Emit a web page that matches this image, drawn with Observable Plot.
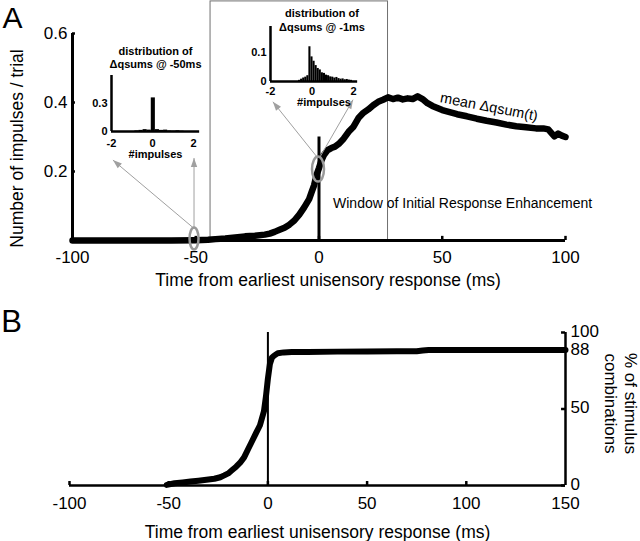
<!DOCTYPE html>
<html><head><meta charset="utf-8">
<script src="https://cdn.jsdelivr.net/npm/d3@7"></script>
<script src="https://cdn.jsdelivr.net/npm/@observablehq/plot@0.6"></script>
<style>
body{margin:0;background:#fff}
#fig{position:relative;width:640px;height:541px;overflow:hidden;background:#fff}
#fig > svg{position:absolute}
</style></head><body><div id="fig"></div>
<script>
// ---------- Panel A data ----------
const timeA = [-100,-80,-60,-50,-45,-42,-38,-34,-30,-26,-22,-20,-18,-16,-14,-12,-10,-8,-6,-4,-3,-2,-1,0,1,2,3.5,5,6.5,8,10,12,14,16,18,20,22,24,26,28,30,32,34,36,38,40,42,44,46,48,50,53,56,60,64,68,72,76,80,84,88,91,93,94.5,95.5,97,98.5,100];
const meanDqsum = [0,0,0,0.001,0.002,0.004,0.006,0.009,0.012,0.014,0.017,0.02,0.025,0.031,0.037,0.046,0.058,0.075,0.096,0.12,0.14,0.16,0.19,0.21,0.232,0.248,0.262,0.268,0.272,0.28,0.295,0.315,0.33,0.355,0.37,0.38,0.392,0.402,0.408,0.415,0.41,0.414,0.409,0.412,0.41,0.418,0.41,0.398,0.39,0.384,0.378,0.372,0.366,0.36,0.353,0.347,0.342,0.336,0.331,0.328,0.325,0.325,0.322,0.31,0.302,0.31,0.304,0.30];
const xTicksA = [-100,-50,0,50,100];
const yTicksA = [0.2,0.4,0.6];
const windowStart = -44, windowEnd = 28, windowTop = 0.693;
const onsetLineTop = 0.30;
const markerT = [-50.7, -0.4];
const markerV = [0.006, 0.207];
const arrowFromT = [-50.7, -50.7, -0.8, 0.4];
const arrowFromV = [0.035, 0.035, 0.242, 0.242];
const arrowToT = [-83.6, -50.7, -18.7, 13.8];
const arrowToV = [0.233, 0.239, 0.402, 0.408];
const windowLabel = "Window of Initial Response Enhancement";
const windowLabelT = 5.7, windowLabelV = 0.107;
const curveLabel = "mean Δqsum(t)";
const curveLabelT = 69, curveLabelV = 0.387;

// ---------- Inset 1 (-50 ms) ----------
const inset1Centers = [-0.76,-0.56,-0.36,-0.16,0.04,0.24,0.44,0.64,0.84,1.04,1.24,1.44];
const inset1Heights = [0.006,0.012,0.02,0.015,0.36,0.02,0.012,0.015,0.006,0.004,0.008,0.003];
const inset1BinWidth = 0.2;
const inset1XTicks = [-2,0,2];
const inset1YTicks = [0,0.3];

// ---------- Inset 2 (-1 ms) ----------
const inset2Centers = [-0.6,-0.5,-0.4,-0.3,-0.2,-0.1,0,0.1,0.2,0.3,0.4,0.5,0.6,0.7,0.8,0.9,1.0,1.1,1.2,1.3,1.4,1.5,1.6,1.7,1.8,1.9];
const inset2Heights = [0.004,0.008,0.012,0.015,0.02,0.12,0.085,0.07,0.055,0.045,0.04,0.03,0.028,0.022,0.02,0.016,0.015,0.012,0.014,0.01,0.008,0.009,0.006,0.007,0.005,0.004];
const inset2BinWidth = 0.1;
const inset2XTicks = [-2,0,2];
const inset2YTicks = [0,0.1];

// ---------- Panel B data ----------
const timeB = [-51,-47,-43,-39,-35,-31,-27,-24,-22,-20,-18,-16,-14,-12,-10,-8,-6,-4,-2,-1,0,1,2,3,5,8,12,20,35,50,65,75,78,81,100,125,150];
const pctB = [0.4,1.5,2.0,2.6,3.1,3.7,4.4,5.4,6.6,7.9,10.1,12.3,14.9,18.4,23.7,28.9,34.2,39.4,48.5,58,69.9,79.4,83.5,84.7,86.5,87,87.2,87.3,87.5,87.6,87.7,87.7,88.2,88.6,88.6,88.6,88.6];
const xTicksB = [-100,-50,0,50,100,150];
const yTicksB = [0,50,88,100];

// ---------- helpers ----------
const font = "'Liberation Sans', Arial, Helvetica, sans-serif";
const st = (size) => ({fontFamily: font, fontSize: size + "px", color: "black", background: "transparent", overflow: "visible"});
const gray = "#a0a0a0";
const mid = {textAnchor: "middle", lineAnchor: "middle"};
function ellipseSymbol(rx, ry) {
  return {draw(ctx) {
    const k = 0.5523;
    ctx.moveTo(rx, 0);
    ctx.bezierCurveTo(rx, k*ry, k*rx, ry, 0, ry);
    ctx.bezierCurveTo(-k*rx, ry, -rx, k*ry, -rx, 0);
    ctx.bezierCurveTo(-rx, -k*ry, -k*rx, -ry, 0, -ry);
    ctx.bezierCurveTo(k*rx, -ry, rx, -k*ry, rx, 0);
    ctx.closePath();
  }};
}
function headSymbol(angle) {
  const L = 9, W = 3.2, c = Math.cos(angle), s = Math.sin(angle);
  const rot = ([x, y]) => [x*c - y*s, x*s + y*c];
  return {draw(ctx) {
    const p = [[0,0],[-W,L],[W,L]].map(rot);
    ctx.moveTo(p[0][0], p[0][1]); ctx.lineTo(p[1][0], p[1][1]); ctx.lineTo(p[2][0], p[2][1]); ctx.closePath();
  }};
}
const fig = document.getElementById("fig");
function put(svg, left, top) { svg.style.left = left + "px"; svg.style.top = top + "px"; fig.appendChild(svg); }

// ---------- Panel A ----------
const WA = 640, HA = 300, mlA = 72, mrA = 75, mtA = 33, mbA = 60;
const kxA = (WA - mlA - mrA) / 200, kyA = (HA - mtA - mbA) / 0.6;
const dataA = timeA.map((t, i) => ({t, v: meanDqsum[i]}));
const arrowsA = arrowFromT.map((_, i) => ({x1: arrowFromT[i], y1: arrowFromV[i], x2: arrowToT[i], y2: arrowToV[i]}));
const markers = markerT.map((t, i) => ({t, v: markerV[i]}));
const ellipseR = [[4.5, 11], [6, 12.5]];
const heads = arrowsA.map(a => Plot.dot([a], {x: "x2", y: "y2", r: 5,
  symbol: headSymbol(Math.atan2((a.x2 - a.x1) * kxA, (a.y2 - a.y1) * kyA)), fill: gray, stroke: "none"}));
const ellipses = markers.map((m, i) => Plot.dot([m], {x: "t", y: "v", r: 10,
  symbol: ellipseSymbol(ellipseR[i][0], ellipseR[i][1]), stroke: "#999", strokeWidth: 2.5, fill: "none"}));

const A = Plot.plot({
  width: WA, height: HA, marginLeft: mlA, marginRight: mrA, marginTop: mtA, marginBottom: mbA,
  x: {domain: [-100, 100], axis: null},
  y: {domain: [0, 0.6], axis: null},
  style: st(17),
  marks: [
    Plot.rect([{x1: windowStart, x2: windowEnd, y1: 0, y2: windowTop}], {x1: "x1", x2: "x2", y1: "y1", y2: "y2", fill: "none", stroke: "#707070", strokeWidth: 1}),
    Plot.ruleY([0], {x1: -100, x2: 100, strokeWidth: 3}),
    Plot.ruleX([-100], {y1: 0, y2: 0.6, strokeWidth: 3}),
    Plot.ruleX(xTicksA.slice(1), {y1: 0, y2: 0.012, strokeWidth: 2.5}),
    Plot.ruleY(yTicksA, {x1: -100, x2: -98.8, strokeWidth: 2.5}),
    Plot.ruleX([0], {y1: 0, y2: onsetLineTop, strokeWidth: 3}),
    Plot.line(dataA, {x: "t", y: "v", strokeWidth: 6.5, strokeLinejoin: "round"}),
    Plot.link(arrowsA, {x1: "x1", y1: "y1", x2: "x2", y2: "y2", stroke: gray, strokeWidth: 1}),
    ...heads,
    ...ellipses,
    Plot.text(xTicksA, {x: d => d, y: 0, text: d => String(d), dy: 17, ...mid}),
    Plot.text(yTicksA, {x: -100, y: d => d, text: d => d.toFixed(1), textAnchor: "end", lineAnchor: "middle", dx: -5}),
    Plot.text(["Number of impulses / trial"], {frameAnchor: "left", rotate: -90, dx: -55, dy: 11.5, fontSize: 17.5, ...mid}),
    Plot.text(["Time from earliest unisensory response (ms)"], {frameAnchor: "bottom", dx: 9, dy: 40, fontSize: 17.5, ...mid}),
    Plot.text(["A"], {frameAnchor: "top-left", dx: -60, dy: -15.5, fontSize: 30, ...mid}),
    Plot.text([{t: windowLabelT, v: windowLabelV, label: windowLabel}], {x: "t", y: "v", text: "label", textAnchor: "start", lineAnchor: "middle", fontSize: 14}),
    Plot.text([{t: curveLabelT, v: curveLabelV, label: curveLabel}], {x: "t", y: "v", text: "label", rotate: 11, fontSize: 14.5, ...mid})
  ]
});
put(A, 0, 0);

// ---------- Inset 1 ----------
const bins1 = inset1Centers.map((c, i) => ({x1: c - inset1BinWidth/2, x2: c + inset1BinWidth/2, h: inset1Heights[i]}));
const I1 = Plot.plot({
  width: 140, height: 125, marginLeft: 31, marginRight: 27, marginTop: 35, marginBottom: 34,
  x: {domain: [-2, 2], axis: null}, y: {domain: [0, 0.6], axis: null},
  style: st(11),
  marks: [
    Plot.rect(bins1, {x1: "x1", x2: "x2", y1: 0, y2: "h", fill: "black"}),
    Plot.ruleY([0], {x1: -2, x2: 2.3, strokeWidth: 2.5}),
    Plot.ruleX([-2], {y1: 0, y2: 0.6, strokeWidth: 2.5}),
    Plot.text(inset1XTicks, {x: d => d, y: 0, text: d => String(d), dy: 12, fontWeight: "bold", ...mid}),
    Plot.text(inset1YTicks, {x: -2, y: d => d, text: d => String(d), textAnchor: "end", lineAnchor: "middle", dx: -4, fontWeight: "bold"}),
    Plot.text(["distribution of"], {frameAnchor: "top", dx: 3, dy: -24, fontWeight: "bold", ...mid}),
    Plot.text(["Δqsums @ -50ms"], {frameAnchor: "top", dx: 3, dy: -11, fontWeight: "bold", ...mid}),
    Plot.text(["#impulses"], {frameAnchor: "bottom", dx: 3, dy: 23, fontWeight: "bold", ...mid})
  ]
});
put(I1, 80, 40);

// ---------- Inset 2 ----------
const bins2 = inset2Centers.map((c, i) => ({x1: c - inset2BinWidth/2, x2: c + inset2BinWidth/2, h: inset2Heights[i]}));
const I2 = Plot.plot({
  width: 150, height: 112, marginLeft: 40, marginRight: 27, marginTop: 26, marginBottom: 31,
  x: {domain: [-2, 2], axis: null}, y: {domain: [0, 0.19], axis: null},
  style: st(11),
  marks: [
    Plot.rect(bins2, {x1: "x1", x2: "x2", y1: 0, y2: "h", fill: "black"}),
    Plot.ruleY([0], {x1: -2, x2: 2.2, strokeWidth: 2.5}),
    Plot.ruleX([-2], {y1: 0, y2: 0.19, strokeWidth: 2.5}),
    Plot.text(inset2XTicks, {x: d => d, y: 0, text: d => String(d), dy: 10, fontWeight: "bold", ...mid}),
    Plot.text(inset2YTicks, {x: -2, y: d => d, text: d => String(d), textAnchor: "end", lineAnchor: "middle", dx: -4, fontWeight: "bold"}),
    Plot.text(["distribution of"], {frameAnchor: "top", dx: 10, dy: -13, fontWeight: "bold", ...mid}),
    Plot.text(["Δqsums @ -1ms"], {frameAnchor: "top", dx: 10, dy: 1, fontWeight: "bold", ...mid}),
    Plot.text(["#impulses"], {frameAnchor: "bottom", dx: 12, dy: 21, fontWeight: "bold", ...mid})
  ]
});
put(I2, 230, 0);

// ---------- Panel B ----------
const dataB = timeB.map((t, i) => ({t, p: pctB[i]}));
const B = Plot.plot({
  width: 640, height: 241, marginLeft: 69, marginRight: 75, marginTop: 32, marginBottom: 56,
  x: {domain: [-100, 150], axis: null},
  y: {domain: [0, 100], axis: null},
  style: st(17),
  marks: [
    Plot.ruleY([0], {x1: -100, x2: 150, strokeWidth: 2.5}),
    Plot.ruleX([150], {y1: 0, y2: 100, strokeWidth: 2.5}),
    Plot.ruleX(xTicksB.slice(0, 5), {y1: 0, y2: 2.6, strokeWidth: 2.5}),
    Plot.ruleY(yTicksB, {x1: 148, x2: 150, strokeWidth: 2.5}),
    Plot.ruleX([0], {y1: 0, y2: 100, strokeWidth: 2}),
    Plot.line(dataB, {x: "t", y: "p", strokeWidth: 6, strokeLinejoin: "round"}),
    Plot.text(xTicksB, {x: d => d, y: 0, text: d => String(d), dy: 18, ...mid}),
    Plot.text(yTicksB, {x: 150, y: d => d, text: d => String(d), textAnchor: "start", lineAnchor: "middle", dx: 5, dy: -1}),
    Plot.text(["% of stimulus"], {frameAnchor: "right", rotate: 90, dx: 65, dy: -5.5, ...mid}),
    Plot.text(["combinations"], {frameAnchor: "right", rotate: 90, dx: 45, dy: -5.5, ...mid}),
    Plot.text(["Time from earliest unisensory response (ms)"], {frameAnchor: "bottom", dy: 47, fontSize: 17.5, ...mid}),
    Plot.text(["B"], {frameAnchor: "top-left", dx: -58, dy: -10, fontSize: 31, ...mid})
  ]
});
put(B, 0, 300);
</script></body></html>
